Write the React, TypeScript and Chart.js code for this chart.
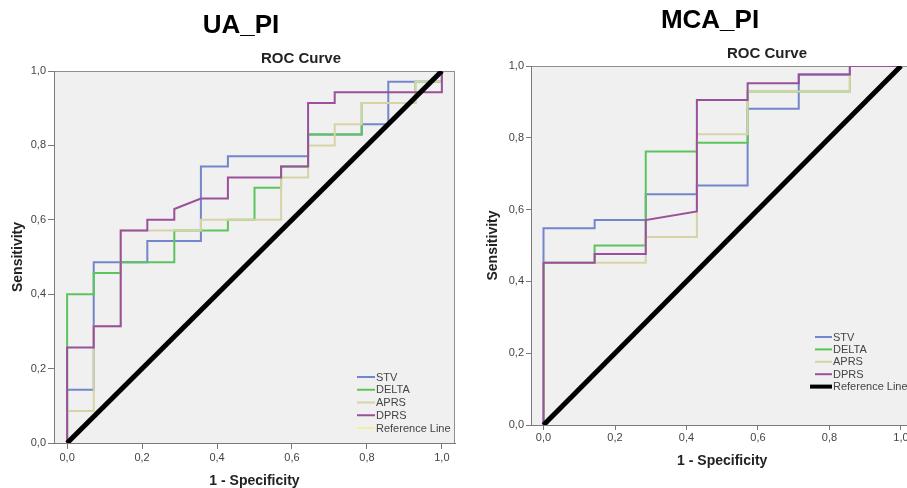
import React, { useEffect, useRef } from "react";
import { Chart, registerables } from "chart.js";

Chart.register(...registerables);
Chart.defaults.font.family = "'Liberation Sans', Arial, sans-serif";

// ---------------- data ----------------
const SERIES = ["STV", "DELTA", "APRS", "DPRS"];
const SERIES_COLORS = ["#7385CB", "#5CC45C", "#D6D3A6", "#9A509A"];
const SERIES_DRAW_ORDER = [4, 3, 2, 1]; // lower = drawn on top
const REF_LABEL = "Reference Line";
const AXIS_TICKS = [0, 0.2, 0.4, 0.6, 0.8, 1.0];
const REF_FPR = [0, 1];
const REF_TPR = [0, 1];

// UA_PI panel
const UA_STV_FPR = [0, 0, 0.071, 0.071, 0.214, 0.214, 0.357, 0.357, 0.429, 0.429, 0.643, 0.643, 0.786, 0.786, 0.857, 0.857, 1, 1];
const UA_STV_TPR = [0, 0.143, 0.143, 0.486, 0.486, 0.543, 0.543, 0.743, 0.743, 0.771, 0.771, 0.829, 0.829, 0.857, 0.857, 0.971, 0.971, 1];
const UA_DELTA_FPR = [0, 0, 0.071, 0.071, 0.143, 0.143, 0.286, 0.286, 0.429, 0.429, 0.5, 0.5, 0.571, 0.571, 0.643, 0.643, 0.786, 0.786, 0.929, 0.929, 1, 1];
const UA_DELTA_TPR = [0, 0.4, 0.4, 0.457, 0.457, 0.486, 0.486, 0.571, 0.571, 0.6, 0.6, 0.686, 0.686, 0.743, 0.743, 0.829, 0.829, 0.914, 0.914, 0.971, 0.971, 1];
const UA_APRS_FPR = [0, 0, 0.071, 0.071, 0.143, 0.143, 0.357, 0.357, 0.571, 0.571, 0.643, 0.643, 0.714, 0.714, 0.786, 0.786, 0.929, 0.929, 1, 1];
const UA_APRS_TPR = [0, 0.086, 0.086, 0.314, 0.314, 0.571, 0.571, 0.6, 0.6, 0.714, 0.714, 0.8, 0.8, 0.857, 0.857, 0.914, 0.914, 0.971, 0.971, 1];
const UA_DPRS_FPR = [0, 0, 0.071, 0.071, 0.143, 0.143, 0.214, 0.214, 0.286, 0.286, 0.357, 0.429, 0.429, 0.571, 0.571, 0.643, 0.643, 0.714, 0.714, 1, 1];
const UA_DPRS_TPR = [0, 0.257, 0.257, 0.314, 0.314, 0.571, 0.571, 0.6, 0.6, 0.629, 0.657, 0.657, 0.714, 0.714, 0.743, 0.743, 0.914, 0.914, 0.943, 0.943, 1];

// MCA_PI panel
const MCA_STV_FPR = [0, 0, 0.143, 0.143, 0.286, 0.286, 0.429, 0.429, 0.571, 0.571, 0.714, 0.714, 0.857, 0.857, 1];
const MCA_STV_TPR = [0, 0.548, 0.548, 0.571, 0.571, 0.643, 0.643, 0.667, 0.667, 0.881, 0.881, 0.976, 0.976, 1, 1];
const MCA_DELTA_FPR = [0, 0, 0.143, 0.143, 0.286, 0.286, 0.429, 0.429, 0.571, 0.571, 0.857, 0.857, 1];
const MCA_DELTA_TPR = [0, 0.452, 0.452, 0.5, 0.5, 0.762, 0.762, 0.786, 0.786, 0.929, 0.929, 1, 1];
const MCA_APRS_FPR = [0, 0, 0.286, 0.286, 0.429, 0.429, 0.571, 0.571, 0.857, 0.857, 1];
const MCA_APRS_TPR = [0, 0.452, 0.452, 0.524, 0.524, 0.81, 0.81, 0.929, 0.929, 1, 1];
const MCA_DPRS_FPR = [0, 0, 0.143, 0.143, 0.286, 0.286, 0.429, 0.429, 0.571, 0.571, 0.714, 0.714, 0.857, 0.857, 1];
const MCA_DPRS_TPR = [0, 0.452, 0.452, 0.476, 0.476, 0.571, 0.595, 0.905, 0.905, 0.952, 0.952, 0.976, 0.976, 1, 1];

// ---------------- helpers ----------------
const zip = (xs: number[], ys: number[]) => xs.map((x, i) => ({ x, y: ys[i] }));
const fmt = (v: number) => Number(v).toFixed(1).replace(".", ",");

const decorPlugin = {
  id: "decor",
  beforeDraw(chart: any) {
    const { ctx, chartArea: a } = chart;
    ctx.save();
    ctx.fillStyle = "#F0F0F0";
    ctx.fillRect(a.left, a.top, a.right - a.left, a.bottom - a.top);
    ctx.strokeStyle = "#8E8E8E";
    ctx.lineWidth = 1;
    ctx.beginPath();
    ctx.moveTo(a.left, a.top + 0.5);
    ctx.lineTo(a.right, a.top + 0.5);
    ctx.moveTo(a.right - 0.5, a.top);
    ctx.lineTo(a.right - 0.5, a.bottom);
    ctx.stroke();
    ctx.restore();
  },
  afterDraw(chart: any, _args: any, opts: any) {
    const { ctx } = chart;
    ctx.save();
    ctx.textAlign = "center";
    ctx.textBaseline = "middle";
    ctx.fillStyle = "#000";
    ctx.font = `bold ${opts.titleSize}px 'Liberation Sans', Arial, sans-serif`;
    ctx.fillText(opts.title, opts.titleX, opts.titleY);
    ctx.fillStyle = "#222";
    ctx.font = "bold 15px 'Liberation Sans', Arial, sans-serif";
    ctx.fillText("ROC Curve", opts.subX, opts.subY);

    // legend
    const lg = opts.legend;
    ctx.textAlign = "left";
    ctx.font = "11px 'Liberation Sans', Arial, sans-serif";
    chart.data.datasets.forEach((ds: any, i: number) => {
      const y = lg.y + i * lg.step;
      const isRef = i === chart.data.datasets.length - 1;
      ctx.strokeStyle = isRef ? lg.refColor : ds.borderColor;
      ctx.lineWidth = isRef ? lg.refWidth : 2;
      ctx.beginPath();
      ctx.moveTo(isRef ? lg.x - lg.refExtra : lg.x, y);
      ctx.lineTo(lg.x + lg.len, y);
      ctx.stroke();
      ctx.fillStyle = "#444";
      ctx.fillText(ds.label, lg.x + lg.len + 1, y + 0.5);
    });
    ctx.restore();
  },
};

type PanelCfg = {
  title: string;
  titleX: number;
  titleY: number;
  titleSize: number;
  subX: number;
  subY: number;
  left: number;
  pad: { left: number; top: number; right: number; bottom: number };
  yWidth: number;
  xHeight: number;
  yTitlePad: number;
  xTitlePad: number;
  xTickLen: number;
  xTickPad: number;
  yTickLen: number;
  yTickPad: number;
  legend: any;
  refWidth: number;
  curves: { fpr: number[]; tpr: number[] }[];
};

function RocPanel({ cfg }: { cfg: PanelCfg }) {
  const ref = useRef<HTMLCanvasElement | null>(null);
  useEffect(() => {
    if (!ref.current) return;
    const datasets: any[] = cfg.curves.map((c, i) => ({
      label: SERIES[i],
      data: zip(c.fpr, c.tpr),
      borderColor: SERIES_COLORS[i],
      borderWidth: 2,
      pointRadius: 0,
      tension: 0,
      fill: false,
      order: SERIES_DRAW_ORDER[i],
    }));
    datasets.push({
      label: REF_LABEL,
      data: zip(REF_FPR, REF_TPR),
      borderColor: "#000",
      borderWidth: cfg.refWidth,
      borderCapStyle: "butt",
      pointRadius: 0,
      fill: false,
      order: 0,
    });
    const tickFont = { size: 11 };
    const chart = new Chart(ref.current, {
      type: "line",
      data: { datasets },
      plugins: [decorPlugin],
      options: {
        responsive: false,
        animation: false,
        events: [],
        layout: { padding: cfg.pad },
        plugins: {
          legend: { display: false },
          title: { display: false },
          tooltip: { enabled: false },
          decor: {
            title: cfg.title,
            titleX: cfg.titleX,
            titleY: cfg.titleY,
            titleSize: cfg.titleSize,
            subX: cfg.subX,
            subY: cfg.subY,
            legend: cfg.legend,
          },
        } as any,
        scales: {
          x: {
            type: "linear",
            min: -0.035,
            max: 1.035,
            afterBuildTicks: (s: any) => {
              s.ticks = AXIS_TICKS.map((v) => ({ value: v }));
            },
            afterFit: (s: any) => {
              s.height = cfg.xHeight;
            },
            ticks: {
              callback: (v: any) => fmt(v),
              font: tickFont,
              color: "#444",
              padding: cfg.xTickPad,
              maxRotation: 0,
              autoSkip: false,
            },
            grid: { drawOnChartArea: false, tickLength: cfg.xTickLen, color: "#7A7A7A" },
            border: { color: "#7A7A7A", width: 1 },
            title: {
              display: true,
              text: "1 - Specificity",
              color: "#222",
              font: { size: 14, weight: "bold", lineHeight: 1 },
              padding: { top: 0, bottom: cfg.xTitlePad },
            },
          },
          y: {
            type: "linear",
            min: 0,
            max: 1,
            afterBuildTicks: (s: any) => {
              s.ticks = AXIS_TICKS.map((v) => ({ value: v }));
            },
            afterFit: (s: any) => {
              s.width = cfg.yWidth;
            },
            ticks: {
              callback: (v: any) => fmt(v),
              font: tickFont,
              color: "#444",
              padding: cfg.yTickPad,
              autoSkip: false,
            },
            grid: { drawOnChartArea: false, tickLength: cfg.yTickLen, color: "#7A7A7A" },
            border: { color: "#7A7A7A", width: 1 },
            title: {
              display: true,
              text: "Sensitivity",
              color: "#222",
              font: { size: 14, weight: "bold", lineHeight: 1 },
              padding: { top: cfg.yTitlePad, bottom: 0 },
            },
          },
        },
      } as any,
    });
    return () => chart.destroy();
  }, [cfg]);
  return (
    <canvas
      ref={ref}
      width={460}
      height={488}
      style={{ position: "absolute", left: cfg.left, top: 0, width: 460, height: 488 }}
    />
  );
}

const UA_CFG: PanelCfg = {
  title: "UA_PI",
  titleX: 241,
  titleY: 26,
  titleSize: 26,
  subX: 301,
  subY: 58.5,
  left: 0,
  pad: { left: 0, top: 71, right: 5, bottom: 0 },
  yWidth: 54,
  xHeight: 45,
  yTitlePad: 11,
  xTitlePad: 0,
  xTickLen: 6,
  xTickPad: 2,
  yTickLen: 6,
  yTickPad: 2,
  refWidth: 5,
  legend: { x: 357, y: 377, step: 12.75, len: 18, refColor: "#F2EEA2", refWidth: 2, refExtra: 0 },
  curves: [
    { fpr: UA_STV_FPR, tpr: UA_STV_TPR },
    { fpr: UA_DELTA_FPR, tpr: UA_DELTA_TPR },
    { fpr: UA_APRS_FPR, tpr: UA_APRS_TPR },
    { fpr: UA_DPRS_FPR, tpr: UA_DPRS_TPR },
  ],
};

const MCA_CFG: PanelCfg = {
  title: "MCA_PI",
  titleX: 250,
  titleY: 20.5,
  titleSize: 26,
  subX: 307,
  subY: 54,
  left: 460,
  pad: { left: 0, top: 66, right: 6.5, bottom: 0 },
  yWidth: 71,
  xHeight: 63,
  yTitlePad: 26,
  xTitlePad: 20,
  xTickLen: 5,
  xTickPad: 1,
  yTickLen: 5,
  yTickPad: 2,
  refWidth: 5,
  legend: { x: 355, y: 337, step: 12.4, len: 17, refColor: "#000", refWidth: 4, refExtra: 5 },
  curves: [
    { fpr: MCA_STV_FPR, tpr: MCA_STV_TPR },
    { fpr: MCA_DELTA_FPR, tpr: MCA_DELTA_TPR },
    { fpr: MCA_APRS_FPR, tpr: MCA_APRS_TPR },
    { fpr: MCA_DPRS_FPR, tpr: MCA_DPRS_TPR },
  ],
};

export default function App() {
  return (
    <div
      style={{
        position: "fixed",
        left: 0,
        top: 0,
        width: 907,
        height: 488,
        overflow: "hidden",
        background: "#fff",
      }}
    >
      <RocPanel cfg={UA_CFG} />
      <RocPanel cfg={MCA_CFG} />
    </div>
  );
}
